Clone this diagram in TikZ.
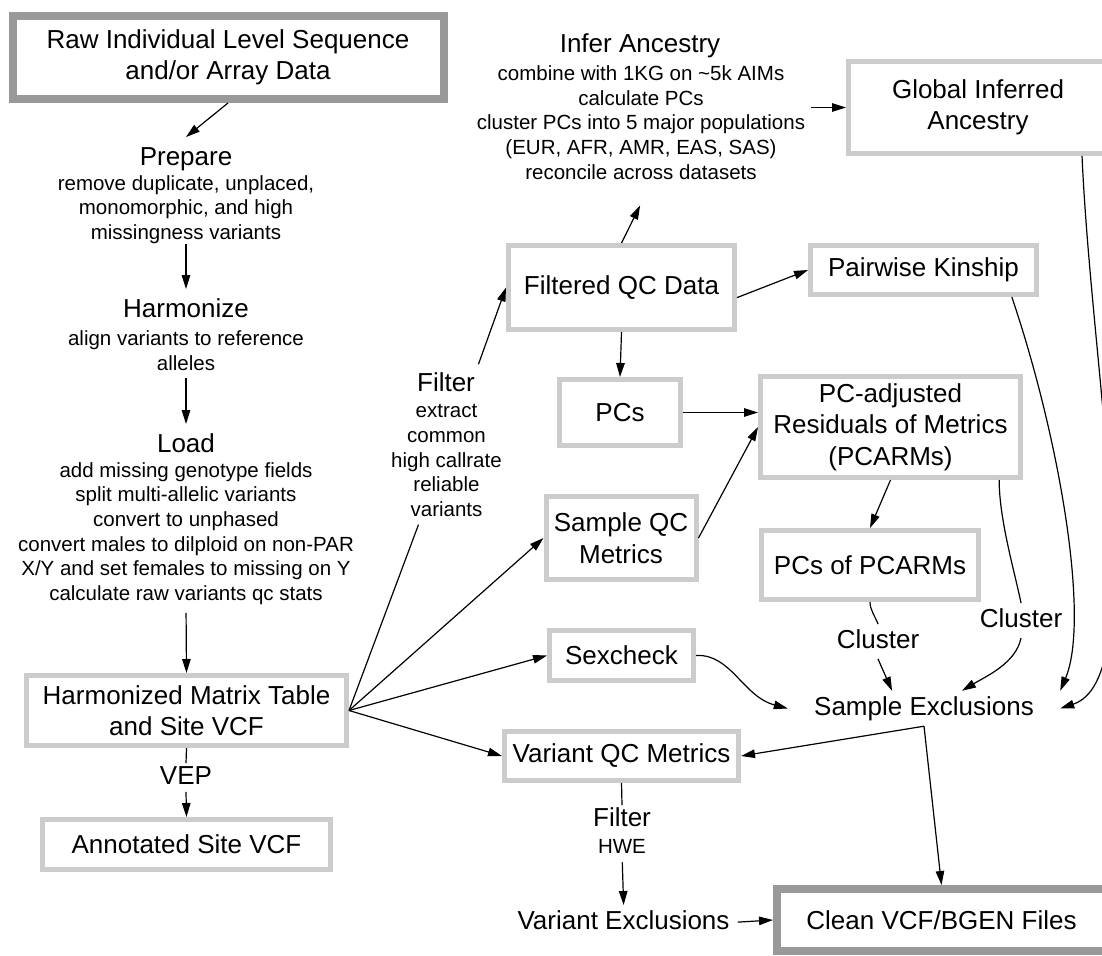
\documentclass[tikz,border=0pt]{standalone}
\usepackage{fontspec}
\setmainfont{Liberation Sans}
\usetikzlibrary{arrows.meta,calc}
\newcommand\fbig{\fontsize{26}{31.5}\selectfont}
\newcommand\fsmall{\fontsize{20.5}{24.6}\selectfont}
\definecolor{boxgray}{HTML}{CCCCCC}
\definecolor{heavygray}{HTML}{999999}
\begin{document}
\begin{tikzpicture}[x=1pt,y=-1pt,
  box/.style={draw=boxgray,line width=5pt,fill=white,inner sep=0pt,align=center,font=\fbig},
  heavybox/.style={box,draw=heavygray,line width=8pt},
  title/.style={inner xsep=2pt,inner ysep=9pt,text height=19pt,text depth=5.5pt,font=\fbig},
  sub/.style={inner sep=0pt,align=center,font=\fsmall},
  conn/.style={line width=1.2pt,black},
  arr/.style={conn,-{Triangle[length=14pt,width=8.5pt]}},
]
\useasboundingbox (0,0) rectangle (1102,955);
\fill[white] (0,0) rectangle (1102,955);
\clip (0,0) rectangle (1102,955);

% left column
\node[heavybox,minimum width=431pt,minimum height=83pt] (raw) at (228,57.5) {Raw Individual Level Sequence\\and/or Array Data};
\node[title] (prepT) at (186,158.5) {Prepare};
\node[sub] (prepS) at (186,209.5) {remove duplicate, unplaced,\\monomorphic, and high\\missingness variants};
\node[title] (harmT) at (186,310.5) {Harmonize};
\node[sub] (harmS) at (186,350.5) {align variants to reference\\alleles};
\node[title] (loadT) at (186,445.5) {Load};
\node[sub] (loadS) at (186,533.5) {add missing genotype fields\\split multi-allelic variants\\convert to unphased\\convert males to dilploid on non-PAR\\X/Y and set females to missing on Y\\calculate raw variants qc stats};
\node[box,minimum width=320pt,minimum height=70pt] (hmt) at (186.5,710.5) {Harmonized Matrix Table\\and Site VCF};
\node[title,inner ysep=2pt] (vep) at (186,777.5) {VEP};
\node[box,minimum width=288pt,minimum height=50pt] (ann) at (186.5,844.5) {Annotated Site VCF};

% filter
\node[title,inner ysep=4pt] (filtT) at (446,384.5) {Filter};
\node[sub] (filtS) at (446.5,460.5) {extract\\common\\high callrate\\reliable\\variants};

% middle / right
\node[box,minimum width=226pt,minimum height=84pt] (fqc) at (621.5,287.5) {Filtered QC Data};
\node[title] (inferT) at (640,45.5) {Infer Ancestry};
\node[sub] (inferS) at (641,122.5) {combine with 1KG on \textasciitilde5k AIMs\\calculate PCs\\cluster PCs into 5 major populations\\(EUR, AFR, AMR, EAS, SAS)\\reconcile across datasets};
\node[box,minimum width=259pt,minimum height=92pt] (global) at (978,107.5) {Global Inferred\\Ancestry};
\node[box,minimum width=226pt,minimum height=49pt] (pk) at (923.5,270) {Pairwise Kinship};
\node[box,minimum width=121pt,minimum height=66pt] (pcs) at (620,412.5) {PCs};
\node[box,minimum width=260pt,minimum height=101pt] (pcarm) at (890.5,427) {PC-adjusted\\Residuals of Metrics\\(PCARMs)};
\node[box,minimum width=150pt,minimum height=83pt] (sqc) at (621,538) {Sample QC\\Metrics};
\node[box,minimum width=217pt,minimum height=69pt] (pcp) at (870,565) {PCs of PCARMs};
\node[box,minimum width=144pt,minimum height=50pt] (sex) at (621.5,655.5) {Sexcheck};
\node[title,inner ysep=5pt] (cl1) at (878,641.5) {Cluster};
\node[title,inner ysep=5pt] (cl2) at (1021,620.5) {Cluster};
\node[font=\fbig,minimum width=272pt,minimum height=35pt,inner sep=0pt] (se) at (924,708.5) {Sample Exclusions};
\node[box,minimum width=234pt,minimum height=49pt] (vqc) at (621.5,756) {Variant QC Metrics};
\node[title,inner ysep=2pt] (f2T) at (622,819.5) {Filter};
\node[sub] (f2S) at (622,846) {HWE};
\node[title] (vex) at (623.5,922.5) {Variant Exclusions};
\node[heavybox,minimum width=329pt,minimum height=62pt] (clean) at (941.5,920) {Clean VCF/BGEN Files};

% connectors, left column
\draw[arr] (raw.south) -- (prepT.north);
\draw[arr] (prepS.south) -- (harmT.north);
\draw[arr,shorten <=7pt] (harmS.south) -- (loadT.north);
\draw[arr,shorten <=8pt] (loadS.south) -- (hmt.north);
\draw[conn] (hmt.south) -- (vep.north);
\draw[arr] (vep.south) -- (ann.north);

% fan from harmonized table
\draw[conn] (hmt.east) -- ($(filtS.south)+(-28,8)$);
\draw[arr,shorten <=4pt] (filtT.north east) -- (fqc.west);
\draw[arr] (hmt.east) -- (sqc.west);
\draw[arr] (hmt.east) -- (sex.west);
\draw[arr] (hmt.east) -- (vqc.west);

% filtered QC data
\draw[arr,shorten >=29pt] (fqc.north) -- ($(inferS.south)+(12,0)$);
\draw[arr,shorten <=6pt] (inferS.east |- global.west) -- (global.west);
\draw[arr] (fqc.-5) -- (pk.west);
\draw[arr] (fqc.south) -- (pcs.north);
\draw[arr] (pcs.east) -- (pcs.east -| pcarm.west);
\draw[arr] (sqc.east) -- (pcarm.west);
\draw[arr] (pcarm.south) -- (pcp.north);

% clusters and sample exclusions
\draw[conn] (pcp.south) .. controls +(0,8) and +(-3,-8) .. (cl1.north);
\draw[arr] (cl1.south) -- (se.151);
\draw[conn] (pcarm.-26) .. controls +(0,40) and +(-6,-30) .. (cl2.north);
\draw[arr] (cl2.south) .. controls +(-5,25) and +(25,-15) .. (se.25);
\draw[arr] (sex.east) .. controls +(35,-2) and +(-45,-12) .. (se.west);
\draw[arr] (global.-25) .. controls +(10,224) and +(90,-30) .. (se.east);
\draw[arr] (pk.-17) .. controls +(48,142) and +(30,-71) .. (se.north east);

% variant side
\draw[arr] (se.south) -- (vqc.east);
\draw[arr] (se.south) -- (clean.north);
\draw[conn] (vqc.south) -- (f2T.north);
\draw[arr,shorten <=9pt,shorten >=-4pt] (f2S.south) -- (vex.north);
\draw[arr,shorten <=6pt] (vex.east) -- (clean.west);
\end{tikzpicture}
\end{document}
